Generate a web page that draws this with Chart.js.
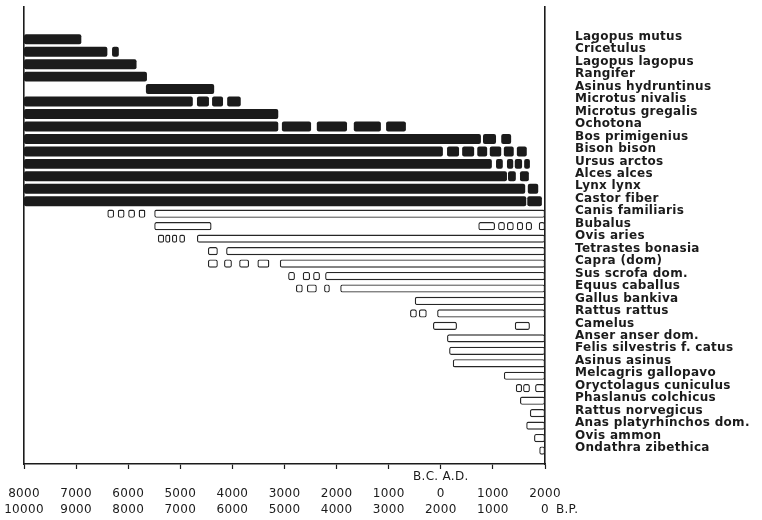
<!DOCTYPE html>
<html>
<head>
<meta charset="utf-8">
<script src="https://cdn.jsdelivr.net/npm/chart.js@4.4.0/dist/chart.umd.min.js"></script>
<style>
  html, body { margin: 0; padding: 0; background: #fff; }
  #wrap { width: 762px; height: 520px; }
</style>
</head>
<body>
<div id="wrap"><canvas id="chart" width="762" height="520"></canvas></div>
<script>
// Years are signed: negative = B.C., positive = A.D.
// Wild species: periods of presence (first block is the continuous record, later blocks are sporadic finds)
const wildSpecies = [
  'Lagopus mutus', 'Cricetulus', 'Lagopus lagopus', 'Rangifer', 'Asinus hydruntinus',
  'Microtus nivalis', 'Microtus gregalis', 'Ochotona', 'Bos primigenius', 'Bison bison',
  'Ursus arctos', 'Alces alces', 'Lynx lynx', 'Castor fiber'
];
const wildRanges = [
  [[-8000, -6900]],
  [[-8000, -6400], [-6310, -6180]],
  [[-8000, -5840]],
  [[-8000, -5640]],
  [[-5660, -4350]],
  [[-8000, -4760], [-4680, -4450], [-4390, -4180], [-4100, -3840]],
  [[-8000, -3120]],
  [[-8000, -3120], [-3050, -2490], [-2380, -1800], [-1670, -1150], [-1050, -670]],
  [[-8000, 770], [810, 1060], [1160, 1350]],
  [[-8000, 40], [120, 350], [410, 640], [700, 890], [940, 1160], [1210, 1400], [1460, 1650]],
  [[-8000, 980], [1060, 1190], [1270, 1390], [1420, 1560], [1600, 1710]],
  [[-8000, 1270], [1290, 1440], [1520, 1690]],
  [[-8000, 1620], [1670, 1870]],
  [[-8000, 1640], [1660, 1940]]
];

// Domestic and introduced species: periods of presence
const domesticSpecies = [
  'Canis familiaris', 'Bubalus', 'Ovis aries', 'Tetrastes bonasia', 'Capra (dom)',
  'Sus scrofa dom.', 'Equus caballus', 'Gallus bankiva', 'Rattus rattus', 'Camelus',
  'Anser anser dom.', 'Felis silvestris f. catus', 'Asinus asinus', 'Melcagris gallopavo',
  'Oryctolagus cuniculus', 'Phaslanus colchicus', 'Rattus norvegicus',
  'Anas platyrhinchos dom.', 'Ovis ammon', 'Ondathra zibethica'
];
const domesticRanges = [
  [[-6400, -6270], [-6200, -6070], [-6000, -5870], [-5800, -5670], [-5500, 2000]],
  [[-5500, -4400], [720, 1040], [1100, 1230], [1270, 1400], [1460, 1580], [1630, 1750], [1880, 2000]],
  [[-5430, -5310], [-5290, -5190], [-5160, -5060], [-5020, -4910], [-4680, 2000]],
  [[-4470, -4280], [-4120, 2000]],
  [[-4470, -4280], [-4160, -4010], [-3870, -3680], [-3520, -3290], [-3090, 2000]],
  [[-2930, -2800], [-2650, -2510], [-2450, -2320], [-2220, 2000]],
  [[-2780, -2650], [-2570, -2380], [-2240, -2130], [-1930, 2000]],
  [[-500, 2000]],
  [[-590, -460], [-420, -270], [-70, 2000]],
  [[-150, 310], [1420, 1710]],
  [[120, 2000]],
  [[160, 2000]],
  [[230, 2000]],
  [[1210, 2000]],
  [[1440, 1560], [1580, 1710], [1810, 2000]],
  [[1520, 2000]],
  [[1710, 2000]],
  [[1640, 2000]],
  [[1790, 2000]],
  [[1890, 2000]]
];

// Time axis
const yearTicks = [-8000, -7000, -6000, -5000, -4000, -3000, -2000, -1000, 0, 1000, 2000];
const calendarLabels = ['8000', '7000', '6000', '5000', '4000', '3000', '2000', '1000', '0', '1000', '2000'];
const bpLabels = ['10000', '9000', '8000', '7000', '6000', '5000', '4000', '3000', '2000', '1000', '0'];
const eraLabel = 'B.C. A.D.';
const bpSuffix = 'B.P.';

const allSpecies = wildSpecies.concat(domesticSpecies);

function toBars(ranges, rowOffset) {
  const out = [];
  ranges.forEach((segs, i) => segs.forEach(seg => out.push({ x: seg, y: i + rowOffset })));
  return out;
}

const ink = '#1b1b1b';
const fontFamily = '"DejaVu Sans", sans-serif';
const spacing = '0.3px';

const textSpacing = {
  id: 'textSpacing',
  beforeDraw(chart) { chart.ctx.letterSpacing = spacing; },
  afterDraw(chart) { chart.ctx.letterSpacing = '0px'; }
};

// writes "B.P." after the last label of the second time row
const bpMarker = {
  id: 'bpMarker',
  afterDraw(chart) {
    const s = chart.scales.x;
    const items = s.getLabelItems();
    const last = items[items.length - 1];
    if (!last) return;
    const [tx, ty] = last.options.translation;
    const ctx = chart.ctx;
    ctx.save();
    ctx.letterSpacing = spacing;
    ctx.font = last.font.string;
    ctx.fillStyle = ink;
    ctx.textAlign = 'left';
    ctx.textBaseline = last.options.textBaseline;
    const lineY = ty + last.textOffset + last.font.lineHeight * (last.label.length - 1);
    ctx.fillText(bpSuffix, tx + ctx.measureText('0').width / 2 + 7, lineY);
    ctx.restore();
  }
};

new Chart(document.getElementById('chart'), {
  type: 'bar',
  data: {
    datasets: [
      {
        label: 'wild',
        data: toBars(wildRanges, 0),
        backgroundColor: ink,
        borderWidth: 0,
        borderRadius: 2,
        borderSkipped: false,
        grouped: false,
        categoryPercentage: 1,
        barPercentage: 0.8,
        yAxisID: 'y'
      },
      {
        label: 'domestic',
        data: toBars(domesticRanges, wildSpecies.length),
        backgroundColor: '#ffffff',
        borderColor: '#262626',
        borderWidth: 1.4,
        borderRadius: 2,
        borderSkipped: false,
        grouped: false,
        categoryPercentage: 1,
        barPercentage: 0.66,
        yAxisID: 'y'
      }
    ]
  },
  options: {
    indexAxis: 'y',
    responsive: false,
    animation: false,
    devicePixelRatio: 1,
    layout: { padding: { left: 24, top: 7, right: 0, bottom: 0 } },
    plugins: { legend: { display: false }, tooltip: { enabled: false } },
    scales: {
      x: {
        type: 'linear',
        position: 'bottom',
        min: -8000,
        max: 2000,
        offset: false,
        afterBuildTicks: s => { s.ticks = yearTicks.map(v => ({ value: v })); },
        afterFit: s => { s.height = 56; },
        grid: { drawOnChartArea: false, drawTicks: true, tickLength: 5, tickColor: ink, tickWidth: 1.2 },
        border: { display: true, color: ink, width: 1.6 },
        ticks: {
          autoSkip: false,
          maxRotation: 0,
          padding: 0,
          color: ink,
          font: { family: fontFamily, size: 12, lineHeight: 1.36 },
          callback: (v, i) => [yearTicks[i] === 0 ? eraLabel : '', calendarLabels[i], bpLabels[i]]
        }
      },
      y: {
        type: 'linear',
        position: 'left',
        reverse: true,
        offset: false,
        min: -2.57,
        max: 34.08,
        afterBuildTicks: s => { s.ticks = allSpecies.map((n, i) => ({ value: i })); },
        grid: { display: true, offset: false, drawOnChartArea: false, drawTicks: false },
        border: { display: true, color: ink, width: 1.6 },
        ticks: { display: false, padding: 0 }
      },
      yl: {
        type: 'linear',
        position: 'right',
        reverse: true,
        offset: false,
        min: -2.37,
        max: 34.28,
        afterBuildTicks: s => { s.ticks = allSpecies.map((n, i) => ({ value: i })); },
        afterFit: s => { s.width = 217; },
        grid: { display: true, offset: false, drawOnChartArea: false, drawTicks: true, tickLength: 30, tickColor: 'rgba(0,0,0,0)' },
        border: { display: true, color: ink, width: 1.6 },
        ticks: {
          autoSkip: false,
          padding: 0,
          color: ink,
          font: { family: fontFamily, size: 12, weight: 'bold' },
          callback: v => allSpecies[v]
        }
      }
    }
  },
  plugins: [textSpacing, bpMarker]
});
</script>
</body>
</html>
